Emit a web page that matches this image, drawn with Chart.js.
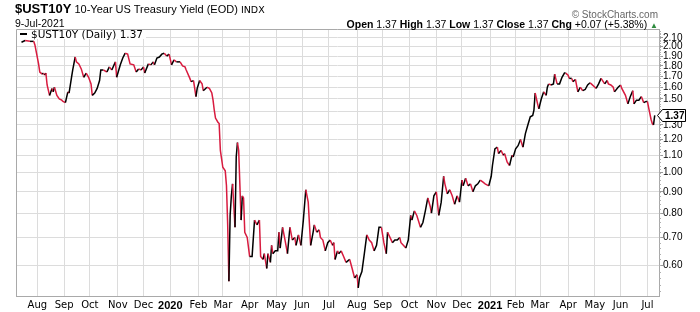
<!DOCTYPE html>
<html lang="en">
<head>
  <meta charset="UTF-8" />
  <title>$UST10Y - 10-Year US Treasury Yield</title>
  <script src="https://cdn.jsdelivr.net/npm/chart.js"></script>
  <style>
    body { margin: 0; background: #fff; }
    #wrap { position: relative; width: 700px; height: 312px; font-family: "Liberation Sans", Arial, sans-serif; color: #000; }
    #wrap canvas { position: absolute; left: 0; top: 0; }
    .txt { position: absolute; white-space: nowrap; line-height: 1; }
    .legend { left: 17px; top: 30px; height: 9px; padding: 0 3px 0 3px; background: #fff; font: 10.5px "DejaVu Sans", sans-serif; line-height: 9px; }
    .legend i { display: inline-block; width: 7px; height: 2px; background: #000; vertical-align: 3px; margin-right: 4px; }
  </style>
</head>
<body>
  <div id="wrap">
    <canvas id="yieldChart" width="700" height="312"></canvas>

    <div class="txt" style="left:15px; top:2px; font-size:11px;"><b style="font-size:13px;">$UST10Y</b> 10-Year US Treasury Yield (EOD) <span style="font:9.5px 'DejaVu Sans';">INDX</span></div>
    <div class="txt" style="left:15px; top:18px; font-size:10.5px;">9-Jul-2021</div>
    <div class="txt" style="right:42px; top:9.5px; font-size:10px; color:#666;">&copy; StockCharts.com</div>
    <div class="txt" style="right:42px; top:18.5px; font-size:10.5px;"><b>Open</b> 1.37 <b>High</b> 1.37 <b>Low</b> 1.37 <b>Close</b> 1.37 <b>Chg</b> +0.07 (+5.38%) <span style="color:#2e8b3e; font-size:8px;">&#9650;</span></div>
    <div class="txt legend"><i></i>$UST10Y (Daily) 1.37</div>
  </div>

  <script>
    // x = trading session, counted Mon-Fri from Mon 8-Jul-2019
    const session = [
      5, 8, 12, 15, 16, 19, 20, 22, 23, 24, 25, 26, 28, 30, 31, 32, 34, 36, 38, 39,
      41, 43, 44, 46, 47, 49, 50, 52, 54, 56, 58, 60, 62, 63, 65, 67, 69, 70, 72, 75,
      77, 79, 82, 83, 86, 88, 90, 92, 94, 97, 99, 101, 103, 105, 106, 109, 111, 113, 114, 116,
      118, 120, 122, 124, 126, 128, 130, 132, 135, 137, 139, 140, 143, 144, 146, 148, 149, 151, 153, 154,
      157, 159, 161, 162, 163, 164, 166, 167, 168, 170, 172, 173, 174, 175, 176, 177, 178, 180, 181, 182,
      183, 185, 186, 187, 188, 190, 192, 194, 196, 198, 200, 201, 203, 204, 206, 207, 209, 210, 211, 213,
      215, 216, 217, 219, 221, 223, 225, 227, 229, 230, 232, 234, 236, 238, 240, 242, 244, 245, 247, 249,
      250, 252, 254, 256, 258, 260, 261, 262, 264, 265, 267, 269, 271, 274, 276, 278, 280, 281, 282, 284,
      286, 288, 290, 292, 294, 296, 298, 300, 302, 304, 305, 307, 309, 311, 313, 315, 316, 318, 320, 322,
      324, 325, 327, 329, 332, 334, 336, 338, 340, 341, 343, 345, 347, 349, 351, 352, 354, 356, 358, 360,
      362, 364, 366, 367, 369, 371, 373, 375, 377, 379, 381, 383, 385, 388, 390, 391, 393, 395, 396, 398,
      400, 401, 403, 405, 407, 408, 410, 412, 414, 416, 418, 420, 422, 424, 425, 426, 428, 429, 431, 433,
      435, 436, 437, 439, 441, 442, 444, 446, 448, 450, 451, 453, 454, 456, 457, 459, 461, 463, 465, 467,
      469, 471, 472, 475, 476, 478, 480, 483, 485, 486, 488, 490, 491, 494, 496, 497, 500, 502, 504, 506,
      507, 509, 511, 513, 515, 517, 518, 519, 521, 522, 523, 524
    ];
    const yields = [
      2.05, 2.07, 2.06, 2.06, 2.02, 1.82, 1.74, 1.72, 1.73, 1.71, 1.73, 1.62, 1.53, 1.59, 1.56, 1.60, 1.53, 1.50, 1.49, 1.48,
      1.47, 1.56, 1.55, 1.69, 1.76, 1.89, 1.84, 1.82, 1.77, 1.69, 1.73, 1.69, 1.63, 1.53, 1.55, 1.59, 1.66, 1.76, 1.76, 1.74,
      1.79, 1.76, 1.84, 1.69, 1.81, 1.88, 1.93, 1.92, 1.82, 1.81, 1.74, 1.77, 1.76, 1.79, 1.73, 1.82, 1.81, 1.84, 1.81, 1.88,
      1.89, 1.92, 1.93, 1.90, 1.92, 1.81, 1.86, 1.84, 1.84, 1.80, 1.79, 1.76, 1.68, 1.65, 1.66, 1.52, 1.59, 1.66, 1.63, 1.57,
      1.60, 1.59, 1.55, 1.49, 1.41, 1.35, 1.32, 1.31, 1.13, 1.03, 1.01, 0.93, 0.75, 0.55, 0.79, 0.88, 0.94, 0.74, 1.09, 1.18,
      1.13, 0.77, 0.88, 0.87, 0.72, 0.70, 0.63, 0.63, 0.77, 0.75, 0.77, 0.63, 0.62, 0.64, 0.59, 0.64, 0.61, 0.67, 0.64, 0.65,
      0.65, 0.72, 0.66, 0.74, 0.69, 0.64, 0.74, 0.69, 0.70, 0.67, 0.71, 0.67, 0.77, 0.91, 0.85, 0.67, 0.72, 0.75, 0.72, 0.73,
      0.70, 0.69, 0.65, 0.68, 0.69, 0.67, 0.68, 0.62, 0.65, 0.64, 0.65, 0.63, 0.61, 0.62, 0.59, 0.56, 0.57, 0.53, 0.56, 0.58,
      0.64, 0.71, 0.69, 0.68, 0.65, 0.67, 0.74, 0.74, 0.68, 0.64, 0.72, 0.70, 0.68, 0.69, 0.69, 0.70, 0.68, 0.67, 0.66, 0.69,
      0.79, 0.77, 0.81, 0.79, 0.74, 0.76, 0.81, 0.87, 0.83, 0.80, 0.88, 0.90, 0.79, 0.85, 0.98, 0.94, 0.89, 0.91, 0.88, 0.84,
      0.88, 0.85, 0.96, 0.93, 0.97, 0.93, 0.94, 0.90, 0.93, 0.94, 0.96, 0.95, 0.94, 0.93, 0.98, 1.04, 1.14, 1.15, 1.11, 1.13,
      1.10, 1.11, 1.06, 1.04, 1.10, 1.09, 1.14, 1.16, 1.20, 1.15, 1.24, 1.30, 1.36, 1.37, 1.41, 1.55, 1.46, 1.42, 1.50, 1.56,
      1.53, 1.60, 1.63, 1.62, 1.63, 1.72, 1.63, 1.63, 1.69, 1.73, 1.73, 1.71, 1.68, 1.68, 1.65, 1.67, 1.56, 1.60, 1.57, 1.58,
      1.62, 1.64, 1.63, 1.60, 1.59, 1.63, 1.68, 1.63, 1.66, 1.63, 1.62, 1.60, 1.56, 1.60, 1.62, 1.59, 1.53, 1.46, 1.52, 1.57,
      1.46, 1.49, 1.49, 1.52, 1.47, 1.48, 1.48, 1.43, 1.34, 1.31, 1.30, 1.37
    ];

    // first session of each month, and its label
    const monthStart = [18, 40, 61, 84, 105, 127, 150, 170, 192, 214, 235, 257, 280, 301, 323, 345, 366, 389, 410, 430, 453, 475, 496, 518];
    const monthLabel = ["Aug", "Sep", "Oct", "Nov", "Dec", "2020", "Feb", "Mar", "Apr", "May", "Jun", "Jul",
                        "Aug", "Sep", "Oct", "Nov", "Dec", "2021", "Feb", "Mar", "Apr", "May", "Jun", "Jul"];
    const yTicks = [0.6, 0.7, 0.8, 0.9, 1.0, 1.1, 1.2, 1.3, 1.4, 1.5, 1.6, 1.7, 1.8, 1.9, 2.0, 2.1];
    const lastClose = 1.37;

    const UP = "#000000";
    const DOWN = "#d81b3f";
    const GRID = "#dcdcdc";
    const AXIS = "#a9a9a9";

    const minorTicks = [];
    for (let v = 0.52; v < 2.2; v += 0.02) minorTicks.push(v);

    // plot frame, minor ticks on the price axis and the last-price tag
    const extras = {
      id: "extras",
      beforeDatasetsDraw(chart) {
        const { ctx, chartArea: a } = chart;
        ctx.save();
        ctx.strokeStyle = AXIS;
        ctx.lineWidth = 1;
        ctx.beginPath();
        ctx.moveTo(a.left + 0.5, a.bottom);
        ctx.lineTo(a.left + 0.5, a.top + 0.5);
        ctx.lineTo(a.right, a.top + 0.5);
        ctx.stroke();
        ctx.restore();
      },
      afterDraw(chart) {
        const { ctx, chartArea: a } = chart;
        const y = chart.scales.y;
        ctx.save();
        ctx.strokeStyle = "#b0b0b0";
        ctx.lineWidth = 1;
        ctx.beginPath();
        minorTicks.forEach(v => {
          const py = Math.round(y.getPixelForValue(v)) + 0.5;
          ctx.moveTo(a.right, py);
          ctx.lineTo(a.right + 2, py);
        });
        ctx.stroke();

        const ty = Math.round(y.getPixelForValue(lastClose)) + 0.5;
        const x0 = a.right - 1.5;
        ctx.beginPath();
        ctx.moveTo(x0, ty);
        ctx.lineTo(x0 + 5, ty - 6);
        ctx.lineTo(x0 + 28, ty - 6);
        ctx.lineTo(x0 + 28, ty + 6);
        ctx.lineTo(x0 + 5, ty + 6);
        ctx.closePath();
        ctx.fillStyle = "#fff";
        ctx.fill();
        ctx.strokeStyle = "#000";
        ctx.stroke();
        ctx.fillStyle = "#000";
        ctx.font = "bold 10px 'Liberation Sans', Arial, sans-serif";
        ctx.textBaseline = "middle";
        ctx.fillText(lastClose.toFixed(2), x0 + 7.5, ty + 0.5);
        ctx.restore();
      }
    };

    const ctx = document.getElementById("yieldChart").getContext("2d");

    const yieldChart = new Chart(ctx, {
      type: "line",
      data: {
        datasets: [
          {
            label: "$UST10Y (Daily)",
            data: session.map((s, i) => ({ x: s, y: yields[i] })),
            borderWidth: 1.5,
            pointRadius: 0,
            tension: 0,
            borderColor: UP,
            segment: {
              borderColor: c => (c.p1.parsed.y < c.p0.parsed.y ? DOWN : UP),
            },
          },
        ],
      },
      options: {
        responsive: false,
        animation: false,
        layout: { padding: { left: 16, top: 29, right: 0, bottom: 0 } },
        plugins: {
          legend: { display: false },
          tooltip: { enabled: false },
        },
        scales: {
          x: {
            type: "linear",
            min: 0.5,
            max: 527.5,
            afterBuildTicks: s => { s.ticks = monthStart.map(v => ({ value: v })); },
            afterFit: s => { s.height = 16; },
            border: { color: AXIS },
            grid: { color: GRID, drawTicks: false },
            ticks: {
              autoSkip: false,
              maxRotation: 0,
              padding: 3,
              color: "#000",
              callback: v => monthLabel[monthStart.indexOf(v)],
              font: c => {
                const lab = monthLabel[monthStart.indexOf(c.tick && c.tick.value)];
                return lab && lab.length === 4
                  ? { family: "'Liberation Sans', Arial, sans-serif", size: 11, weight: "bold" }
                  : { family: "'DejaVu Sans', sans-serif", size: 10 };
              },
            },
          },
          y: {
            type: "logarithmic",
            position: "right",
            min: 0.507,
            max: 2.205,
            afterBuildTicks: s => { s.ticks = yTicks.map(v => ({ value: v })); },
            afterFit: s => { s.width = 41; },
            border: { color: AXIS },
            grid: { color: GRID, tickLength: 4, tickColor: "#999" },
            ticks: {
              autoSkip: false,
              padding: 0,
              color: "#000",
              font: { family: "'Liberation Sans', Arial, sans-serif", size: 10 },
              // the last-price tag sits over the nearest level, as on the original
              callback: v => (Math.abs(Math.log(v / lastClose)) < 0.04 ? "" : Number(v).toFixed(2)),
            },
          },
        },
      },
      plugins: [extras],
    });
  </script>
</body>
</html>
